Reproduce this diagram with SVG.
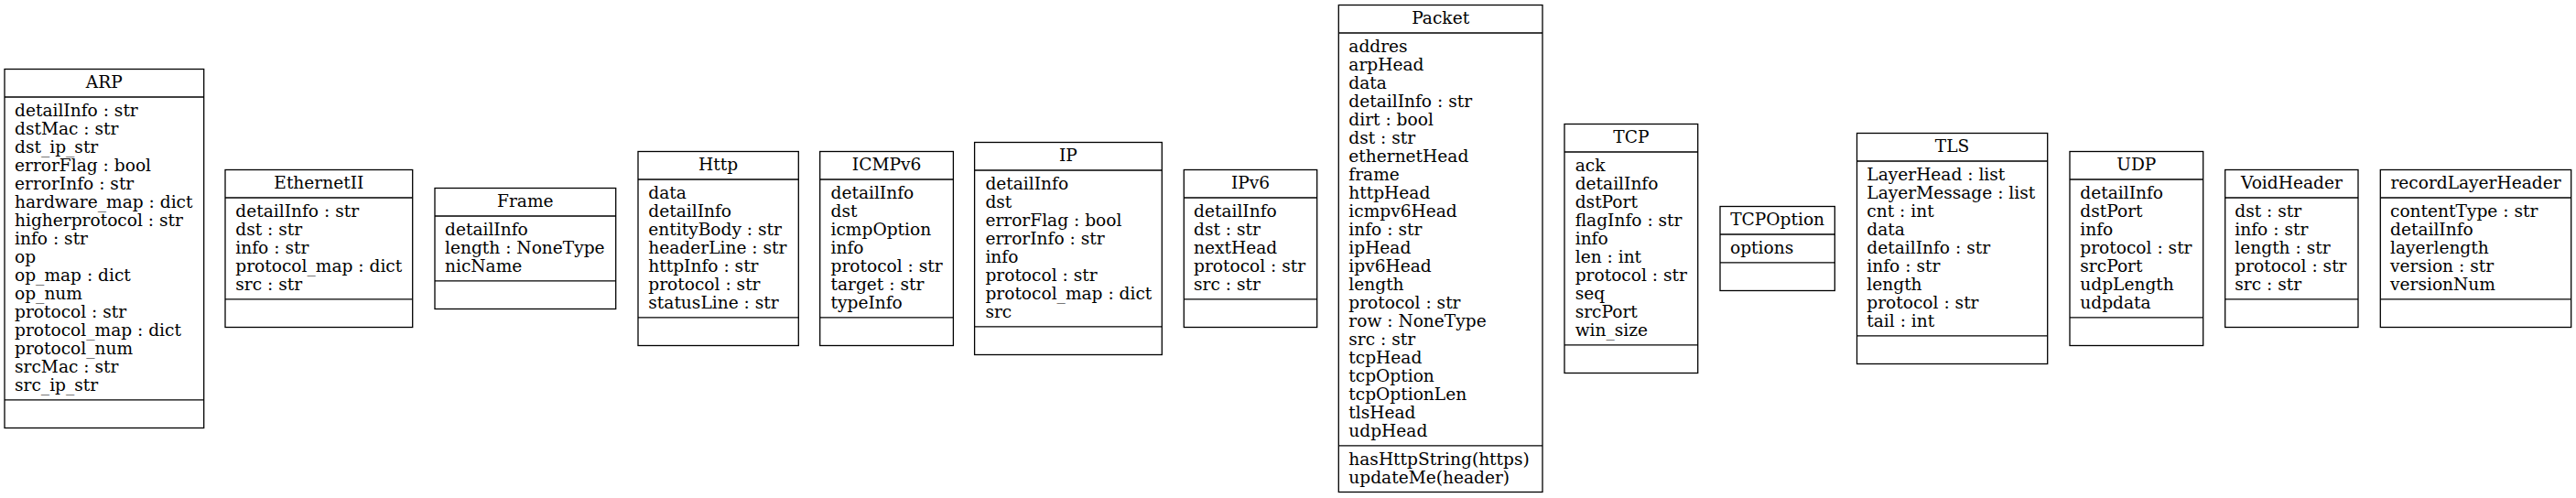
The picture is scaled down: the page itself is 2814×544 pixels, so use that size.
<svg xmlns="http://www.w3.org/2000/svg" width="2814" height="544" viewBox="0 0 2814 544">
<style>
.bg{fill:#fff}
.b{fill:#fff;stroke:#000;stroke-width:1.3}
.l{stroke:#000;stroke-width:1.3}
.t{font-family:"DejaVu Serif",serif;font-size:18.6px;fill:#000}
.h{text-anchor:middle}
</style>
<rect class="bg" x="0" y="0" width="2814" height="544"/>
<g id="connectors"></g>
<g id="ARP">
<rect class="b" x="5" y="75.5" width="217.7" height="392"/>
<line class="l" x1="5" y1="106" x2="222.7" y2="106"/>
<line class="l" x1="5" y1="436.8" x2="222.7" y2="436.8"/>
<text class="t h" x="113.85" y="96">ARP</text>
<text class="t"><tspan x="16" y="126.5">detailInfo : str</tspan><tspan x="16" dy="20">dstMac : str</tspan><tspan x="16" dy="20">dst_ip_str</tspan><tspan x="16" dy="20">errorFlag : bool</tspan><tspan x="16" dy="20">errorInfo : str</tspan><tspan x="16" dy="20">hardware_map : dict</tspan><tspan x="16" dy="20">higherprotocol : str</tspan><tspan x="16" dy="20">info : str</tspan><tspan x="16" dy="20">op</tspan><tspan x="16" dy="20">op_map : dict</tspan><tspan x="16" dy="20">op_num</tspan><tspan x="16" dy="20">protocol : str</tspan><tspan x="16" dy="20">protocol_map : dict</tspan><tspan x="16" dy="20">protocol_num</tspan><tspan x="16" dy="20">srcMac : str</tspan><tspan x="16" dy="20">src_ip_str</tspan></text>
</g>
<g id="EthernetII">
<rect class="b" x="246" y="185.5" width="204.7" height="172"/>
<line class="l" x1="246" y1="216" x2="450.7" y2="216"/>
<line class="l" x1="246" y1="326.8" x2="450.7" y2="326.8"/>
<text class="t h" x="348.35" y="206">EthernetII</text>
<text class="t"><tspan x="257.3" y="236.5">detailInfo : str</tspan><tspan x="257.3" dy="20">dst : str</tspan><tspan x="257.3" dy="20">info : str</tspan><tspan x="257.3" dy="20">protocol_map : dict</tspan><tspan x="257.3" dy="20">src : str</tspan></text>
</g>
<g id="Frame">
<rect class="b" x="475" y="205.5" width="197.7" height="132"/>
<line class="l" x1="475" y1="236" x2="672.7" y2="236"/>
<line class="l" x1="475" y1="306.8" x2="672.7" y2="306.8"/>
<text class="t h" x="573.85" y="226">Frame</text>
<text class="t"><tspan x="486" y="256.5">detailInfo</tspan><tspan x="486" dy="20">length : NoneType</tspan><tspan x="486" dy="20">nicName</tspan></text>
</g>
<g id="Http">
<rect class="b" x="697" y="165.5" width="175.3" height="212"/>
<line class="l" x1="697" y1="196" x2="872.3" y2="196"/>
<line class="l" x1="697" y1="346.8" x2="872.3" y2="346.8"/>
<text class="t h" x="784.65" y="186">Http</text>
<text class="t"><tspan x="708.3" y="216.5">data</tspan><tspan x="708.3" dy="20">detailInfo</tspan><tspan x="708.3" dy="20">entityBody : str</tspan><tspan x="708.3" dy="20">headerLine : str</tspan><tspan x="708.3" dy="20">httpInfo : str</tspan><tspan x="708.3" dy="20">protocol : str</tspan><tspan x="708.3" dy="20">statusLine : str</tspan></text>
</g>
<g id="ICMPv6">
<rect class="b" x="895.7" y="165.5" width="145.7" height="212"/>
<line class="l" x1="895.7" y1="196" x2="1041.4" y2="196"/>
<line class="l" x1="895.7" y1="346.8" x2="1041.4" y2="346.8"/>
<text class="t h" x="968.55" y="186">ICMPv6</text>
<text class="t"><tspan x="907.5" y="216.5">detailInfo</tspan><tspan x="907.5" dy="20">dst</tspan><tspan x="907.5" dy="20">icmpOption</tspan><tspan x="907.5" dy="20">info</tspan><tspan x="907.5" dy="20">protocol : str</tspan><tspan x="907.5" dy="20">target : str</tspan><tspan x="907.5" dy="20">typeInfo</tspan></text>
</g>
<g id="IP">
<rect class="b" x="1064.6" y="155.5" width="204.7" height="232"/>
<line class="l" x1="1064.6" y1="186" x2="1269.3" y2="186"/>
<line class="l" x1="1064.6" y1="356.8" x2="1269.3" y2="356.8"/>
<text class="t h" x="1166.95" y="176">IP</text>
<text class="t"><tspan x="1076.4" y="206.5">detailInfo</tspan><tspan x="1076.4" dy="20">dst</tspan><tspan x="1076.4" dy="20">errorFlag : bool</tspan><tspan x="1076.4" dy="20">errorInfo : str</tspan><tspan x="1076.4" dy="20">info</tspan><tspan x="1076.4" dy="20">protocol : str</tspan><tspan x="1076.4" dy="20">protocol_map : dict</tspan><tspan x="1076.4" dy="20">src</tspan></text>
</g>
<g id="IPv6">
<rect class="b" x="1293.3" y="185.5" width="145.4" height="172"/>
<line class="l" x1="1293.3" y1="216" x2="1438.7" y2="216"/>
<line class="l" x1="1293.3" y1="326.8" x2="1438.7" y2="326.8"/>
<text class="t h" x="1366" y="206">IPv6</text>
<text class="t"><tspan x="1304" y="236.5">detailInfo</tspan><tspan x="1304" dy="20">dst : str</tspan><tspan x="1304" dy="20">nextHead</tspan><tspan x="1304" dy="20">protocol : str</tspan><tspan x="1304" dy="20">src : str</tspan></text>
</g>
<g id="Packet">
<rect class="b" x="1462.3" y="5.5" width="222.7" height="532"/>
<line class="l" x1="1462.3" y1="36" x2="1685" y2="36"/>
<line class="l" x1="1462.3" y1="486.8" x2="1685" y2="486.8"/>
<text class="t h" x="1573.65" y="26">Packet</text>
<text class="t"><tspan x="1473.3" y="56.5">addres</tspan><tspan x="1473.3" dy="20">arpHead</tspan><tspan x="1473.3" dy="20">data</tspan><tspan x="1473.3" dy="20">detailInfo : str</tspan><tspan x="1473.3" dy="20">dirt : bool</tspan><tspan x="1473.3" dy="20">dst : str</tspan><tspan x="1473.3" dy="20">ethernetHead</tspan><tspan x="1473.3" dy="20">frame</tspan><tspan x="1473.3" dy="20">httpHead</tspan><tspan x="1473.3" dy="20">icmpv6Head</tspan><tspan x="1473.3" dy="20">info : str</tspan><tspan x="1473.3" dy="20">ipHead</tspan><tspan x="1473.3" dy="20">ipv6Head</tspan><tspan x="1473.3" dy="20">length</tspan><tspan x="1473.3" dy="20">protocol : str</tspan><tspan x="1473.3" dy="20">row : NoneType</tspan><tspan x="1473.3" dy="20">src : str</tspan><tspan x="1473.3" dy="20">tcpHead</tspan><tspan x="1473.3" dy="20">tcpOption</tspan><tspan x="1473.3" dy="20">tcpOptionLen</tspan><tspan x="1473.3" dy="20">tlsHead</tspan><tspan x="1473.3" dy="20">udpHead</tspan></text>
<text class="t"><tspan x="1473.3" y="507.8">hasHttpString(https)</tspan><tspan x="1473.3" dy="20">updateMe(header)</tspan></text>
</g>
<g id="TCP">
<rect class="b" x="1709" y="135.5" width="145.7" height="272"/>
<line class="l" x1="1709" y1="166" x2="1854.7" y2="166"/>
<line class="l" x1="1709" y1="376.8" x2="1854.7" y2="376.8"/>
<text class="t h" x="1781.85" y="156">TCP</text>
<text class="t"><tspan x="1720.7" y="186.5">ack</tspan><tspan x="1720.7" dy="20">detailInfo</tspan><tspan x="1720.7" dy="20">dstPort</tspan><tspan x="1720.7" dy="20">flagInfo : str</tspan><tspan x="1720.7" dy="20">info</tspan><tspan x="1720.7" dy="20">len : int</tspan><tspan x="1720.7" dy="20">protocol : str</tspan><tspan x="1720.7" dy="20">seq</tspan><tspan x="1720.7" dy="20">srcPort</tspan><tspan x="1720.7" dy="20">win_size</tspan></text>
</g>
<g id="TCPOption">
<rect class="b" x="1879" y="225.5" width="125.3" height="92"/>
<line class="l" x1="1879" y1="256" x2="2004.3" y2="256"/>
<line class="l" x1="1879" y1="286.8" x2="2004.3" y2="286.8"/>
<text class="t h" x="1941.65" y="246">TCPOption</text>
<text class="t" x="1890" y="276.5">options</text>
</g>
<g id="TLS">
<rect class="b" x="2028.5" y="145.5" width="208.2" height="252"/>
<line class="l" x1="2028.5" y1="176" x2="2236.7" y2="176"/>
<line class="l" x1="2028.5" y1="366.8" x2="2236.7" y2="366.8"/>
<text class="t h" x="2132.6" y="166">TLS</text>
<text class="t"><tspan x="2039.3" y="196.5">LayerHead : list</tspan><tspan x="2039.3" dy="20">LayerMessage : list</tspan><tspan x="2039.3" dy="20">cnt : int</tspan><tspan x="2039.3" dy="20">data</tspan><tspan x="2039.3" dy="20">detailInfo : str</tspan><tspan x="2039.3" dy="20">info : str</tspan><tspan x="2039.3" dy="20">length</tspan><tspan x="2039.3" dy="20">protocol : str</tspan><tspan x="2039.3" dy="20">tail : int</tspan></text>
</g>
<g id="UDP">
<rect class="b" x="2261" y="165.5" width="145.7" height="212"/>
<line class="l" x1="2261" y1="196" x2="2406.7" y2="196"/>
<line class="l" x1="2261" y1="346.8" x2="2406.7" y2="346.8"/>
<text class="t h" x="2333.85" y="186">UDP</text>
<text class="t"><tspan x="2272.3" y="216.5">detailInfo</tspan><tspan x="2272.3" dy="20">dstPort</tspan><tspan x="2272.3" dy="20">info</tspan><tspan x="2272.3" dy="20">protocol : str</tspan><tspan x="2272.3" dy="20">srcPort</tspan><tspan x="2272.3" dy="20">udpLength</tspan><tspan x="2272.3" dy="20">udpdata</tspan></text>
</g>
<g id="VoidHeader">
<rect class="b" x="2430.7" y="185.5" width="145.3" height="172"/>
<line class="l" x1="2430.7" y1="216" x2="2576" y2="216"/>
<line class="l" x1="2430.7" y1="326.8" x2="2576" y2="326.8"/>
<text class="t h" x="2503.35" y="206">VoidHeader</text>
<text class="t"><tspan x="2441.3" y="236.5">dst : str</tspan><tspan x="2441.3" dy="20">info : str</tspan><tspan x="2441.3" dy="20">length : str</tspan><tspan x="2441.3" dy="20">protocol : str</tspan><tspan x="2441.3" dy="20">src : str</tspan></text>
</g>
<g id="recordLayerHeader">
<rect class="b" x="2600.3" y="185.5" width="208.4" height="172"/>
<line class="l" x1="2600.3" y1="216" x2="2808.7" y2="216"/>
<line class="l" x1="2600.3" y1="326.8" x2="2808.7" y2="326.8"/>
<text class="t h" x="2704.5" y="206">recordLayerHeader</text>
<text class="t"><tspan x="2611" y="236.5">contentType : str</tspan><tspan x="2611" dy="20">detailInfo</tspan><tspan x="2611" dy="20">layerlength</tspan><tspan x="2611" dy="20">version : str</tspan><tspan x="2611" dy="20">versionNum</tspan></text>
</g>
</svg>
